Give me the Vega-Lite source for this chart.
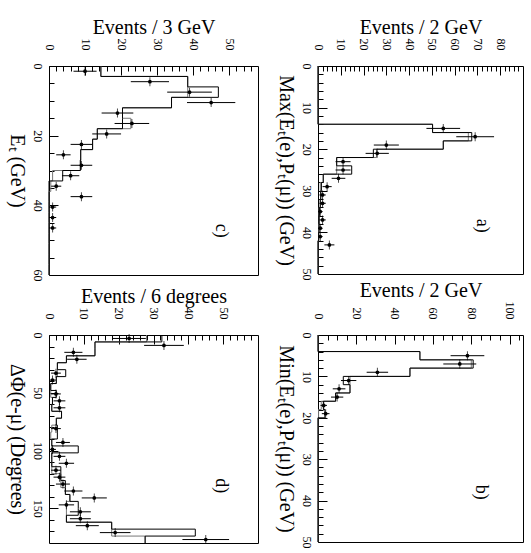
{
  "$schema": "https://vega.github.io/schema/vega-lite/v6.json",
  "background": "white",
  "padding": {"left": 5, "top": 16, "right": 0, "bottom": 0},
  "bounds": "flush",
  "columns": 2,
  "spacing": {"row": 60, "column": 60},
  "config": {
    "font": "Liberation Serif",
    "view": {"stroke": "black", "strokeWidth": 1},
    "axis": {
      "domain": false,
      "grid": false,
      "labelFont": "Liberation Serif",
      "labelFontSize": 12,
      "labelColor": "black",
      "titleFont": "Liberation Serif",
      "titleFontSize": 20,
      "titleFontWeight": "normal",
      "titleColor": "black",
      "tickColor": "black",
      "tickWidth": 1,
      "labelOverlap": false,
      "labelFlush": false
    },
    "axisLeft": {"labelPadding": 16, "titlePadding": 5},
    "axisTop": {"labelPadding": 25, "titlePadding": 1}
  },
  "datasets": {
    "c_hist": [
      {"lo": 0, "hi": 3, "n": 14.4, "m": 14.4},
      {"lo": 3, "hi": 6, "n": 38.5, "m": 38.5},
      {"lo": 6, "hi": 9, "n": 47, "m": 38.5},
      {"lo": 9, "hi": 12, "n": 34, "m": 34},
      {"lo": 12, "hi": 15, "n": 20.4, "m": 20.4},
      {"lo": 15, "hi": 18, "n": 20.4, "m": 22.7},
      {"lo": 18, "hi": 21, "n": 13.4, "m": 13.4},
      {"lo": 21, "hi": 24, "n": 12.1, "m": 12.1},
      {"lo": 24, "hi": 27, "n": 8.8, "m": 8.8},
      {"lo": 27, "hi": 30, "n": 8.7, "m": 8.7},
      {"lo": 30, "hi": 33, "n": 3.8, "m": 1},
      {"lo": 33, "hi": 36, "n": 0, "m": 0.5},
      {"lo": 36, "hi": 39, "n": 0, "m": 0},
      {"lo": 39, "hi": 42, "n": 0, "m": 0},
      {"lo": 42, "hi": 45, "n": 0, "m": 0},
      {"lo": 45, "hi": 48, "n": 0, "m": 0},
      {"lo": 48, "hi": 51, "n": 0, "m": 0},
      {"lo": 51, "hi": 54, "n": 0, "m": 0},
      {"lo": 54, "hi": 57, "n": 0, "m": 0},
      {"lo": 57, "hi": 60, "n": 0, "m": 0}
    ],
    "c_pts": [
      {"v": 1.5, "n": 10, "nlo": 6.8, "nhi": 13.2},
      {"v": 4.5, "n": 28, "nlo": 22.7, "nhi": 33.3},
      {"v": 7.5, "n": 39, "nlo": 32.8, "nhi": 45.2},
      {"v": 10.5, "n": 45, "nlo": 38.3, "nhi": 51.7},
      {"v": 13.5, "n": 19, "nlo": 14.6, "nhi": 23.4},
      {"v": 16.5, "n": 23, "nlo": 18.2, "nhi": 27.8},
      {"v": 19.5, "n": 16, "nlo": 12, "nhi": 20},
      {"v": 22.5, "n": 9, "nlo": 6, "nhi": 12},
      {"v": 25.5, "n": 4, "nlo": 2, "nhi": 6},
      {"v": 28.5, "n": 9, "nlo": 6, "nhi": 12},
      {"v": 31.5, "n": 6, "nlo": 3.6, "nhi": 8.4},
      {"v": 34.5, "n": 2, "nlo": 0.6, "nhi": 3.4},
      {"v": 37.5, "n": 9, "nlo": 6, "nhi": 12},
      {"v": 40.5, "n": 1, "nlo": 0, "nhi": 2},
      {"v": 43.5, "n": 1, "nlo": 0, "nhi": 2},
      {"v": 46.5, "n": 1, "nlo": 0, "nhi": 2}
    ],
    "a_hist": [
      {"lo": 0, "hi": 2, "n": 0, "m": 0},
      {"lo": 2, "hi": 4, "n": 0, "m": 0},
      {"lo": 4, "hi": 6, "n": 0, "m": 0},
      {"lo": 6, "hi": 8, "n": 0, "m": 0},
      {"lo": 8, "hi": 10, "n": 0, "m": 0},
      {"lo": 10, "hi": 12, "n": 0, "m": 0},
      {"lo": 12, "hi": 14, "n": 0, "m": 0},
      {"lo": 14, "hi": 16, "n": 50.3, "m": 50.3},
      {"lo": 16, "hi": 18, "n": 67.5, "m": 66},
      {"lo": 18, "hi": 20, "n": 55, "m": 55},
      {"lo": 20, "hi": 22, "n": 24.3, "m": 25.7},
      {"lo": 22, "hi": 24, "n": 8.2, "m": 8.2},
      {"lo": 24, "hi": 26, "n": 14.8, "m": 8.2},
      {"lo": 26, "hi": 28, "n": 2.3, "m": 2.3},
      {"lo": 28, "hi": 30, "n": 1.5, "m": 1},
      {"lo": 30, "hi": 32, "n": 1.2, "m": 1.2},
      {"lo": 32, "hi": 34, "n": 1, "m": 1},
      {"lo": 34, "hi": 36, "n": 0.7, "m": 0.5},
      {"lo": 36, "hi": 38, "n": 0.5, "m": 0.5},
      {"lo": 38, "hi": 40, "n": 0.5, "m": 0.3},
      {"lo": 40, "hi": 42, "n": 0.3, "m": 0.3},
      {"lo": 42, "hi": 44, "n": 0, "m": 0},
      {"lo": 44, "hi": 46, "n": 0, "m": 0},
      {"lo": 46, "hi": 48, "n": 0, "m": 0},
      {"lo": 48, "hi": 50, "n": 0, "m": 0}
    ],
    "a_pts": [
      {"v": 15, "n": 55, "nlo": 47.6, "nhi": 62.4},
      {"v": 17, "n": 69, "nlo": 60.7, "nhi": 77.3},
      {"v": 19, "n": 30, "nlo": 24.5, "nhi": 35.5},
      {"v": 21, "n": 26, "nlo": 20.9, "nhi": 31.1},
      {"v": 23, "n": 11, "nlo": 7.7, "nhi": 14.3},
      {"v": 25, "n": 11, "nlo": 7.7, "nhi": 14.3},
      {"v": 27, "n": 9, "nlo": 6, "nhi": 12},
      {"v": 29, "n": 4, "nlo": 2, "nhi": 6},
      {"v": 31, "n": 2, "nlo": 0.6, "nhi": 3.4},
      {"v": 33, "n": 2, "nlo": 0.6, "nhi": 3.4},
      {"v": 35, "n": 1, "nlo": 0, "nhi": 2},
      {"v": 37, "n": 2, "nlo": 0.6, "nhi": 3.4},
      {"v": 39, "n": 1, "nlo": 0, "nhi": 2},
      {"v": 41, "n": 1, "nlo": 0, "nhi": 2},
      {"v": 43, "n": 5, "nlo": 2.8, "nhi": 7.2}
    ],
    "d_hist": [
      {"lo": 0, "hi": 6, "n": 32.4, "m": 28},
      {"lo": 6, "hi": 12, "n": 13.2, "m": 13.2},
      {"lo": 12, "hi": 18, "n": 13.2, "m": 13.2},
      {"lo": 18, "hi": 24, "n": 5, "m": 5},
      {"lo": 24, "hi": 30, "n": 2.4, "m": 2.4},
      {"lo": 30, "hi": 36, "n": 4.8, "m": 2.4},
      {"lo": 36, "hi": 42, "n": 2.1, "m": 2.1},
      {"lo": 42, "hi": 48, "n": 0.5, "m": 0.5},
      {"lo": 48, "hi": 54, "n": 2.1, "m": 0.5},
      {"lo": 54, "hi": 60, "n": 1, "m": 1},
      {"lo": 60, "hi": 66, "n": 0.8, "m": 0.8},
      {"lo": 66, "hi": 72, "n": 3.6, "m": 3.6},
      {"lo": 72, "hi": 78, "n": 2.1, "m": 2.1},
      {"lo": 78, "hi": 84, "n": 2.4, "m": 0.8},
      {"lo": 84, "hi": 90, "n": 2.4, "m": 0.5},
      {"lo": 90, "hi": 96, "n": 0.8, "m": 0.8},
      {"lo": 96, "hi": 102, "n": 8.4, "m": 0.8},
      {"lo": 102, "hi": 108, "n": 0.8, "m": 0.8},
      {"lo": 108, "hi": 114, "n": 0.8, "m": 0.8},
      {"lo": 114, "hi": 120, "n": 3.4, "m": 0.8},
      {"lo": 120, "hi": 126, "n": 3.4, "m": 3.4},
      {"lo": 126, "hi": 132, "n": 4.7, "m": 3.4},
      {"lo": 132, "hi": 138, "n": 4.7, "m": 4.7},
      {"lo": 138, "hi": 144, "n": 6, "m": 6},
      {"lo": 144, "hi": 150, "n": 8.4, "m": 5},
      {"lo": 150, "hi": 156, "n": 8.4, "m": 5},
      {"lo": 156, "hi": 162, "n": 5, "m": 5},
      {"lo": 162, "hi": 168, "n": 18, "m": 18},
      {"lo": 168, "hi": 174, "n": 42, "m": 18},
      {"lo": 174, "hi": 180, "n": 27.6, "m": 27.6}
    ],
    "d_pts": [
      {"v": 3, "n": 23, "nlo": 18.2, "nhi": 27.8},
      {"v": 9, "n": 33, "nlo": 27.3, "nhi": 38.7},
      {"v": 15, "n": 7, "nlo": 4.4, "nhi": 9.6},
      {"v": 21, "n": 8, "nlo": 5.2, "nhi": 10.8},
      {"v": 33, "n": 2, "nlo": 0.6, "nhi": 3.4},
      {"v": 39, "n": 1, "nlo": 0, "nhi": 2},
      {"v": 51, "n": 2, "nlo": 0.6, "nhi": 3.4},
      {"v": 57, "n": 3, "nlo": 1.3, "nhi": 4.7},
      {"v": 63, "n": 3, "nlo": 1.3, "nhi": 4.7},
      {"v": 81, "n": 2, "nlo": 0.6, "nhi": 3.4},
      {"v": 93, "n": 4, "nlo": 2, "nhi": 6},
      {"v": 99, "n": 1, "nlo": 0, "nhi": 2},
      {"v": 105, "n": 3, "nlo": 1.3, "nhi": 4.7},
      {"v": 111, "n": 5, "nlo": 2.8, "nhi": 7.2},
      {"v": 117, "n": 2, "nlo": 0.6, "nhi": 3.4},
      {"v": 123, "n": 3, "nlo": 1.3, "nhi": 4.7},
      {"v": 129, "n": 4, "nlo": 2, "nhi": 6},
      {"v": 135, "n": 7, "nlo": 4.4, "nhi": 9.6},
      {"v": 141, "n": 13, "nlo": 9.4, "nhi": 16.6},
      {"v": 147, "n": 5, "nlo": 2.8, "nhi": 7.2},
      {"v": 153, "n": 9, "nlo": 6, "nhi": 12},
      {"v": 159, "n": 9, "nlo": 6, "nhi": 12},
      {"v": 165, "n": 11, "nlo": 7.7, "nhi": 14.3},
      {"v": 171, "n": 19, "nlo": 14.6, "nhi": 23.4},
      {"v": 177, "n": 45, "nlo": 38.3, "nhi": 51.7}
    ],
    "b_hist": [
      {"lo": 0, "hi": 2, "n": 0, "m": 0},
      {"lo": 2, "hi": 4, "n": 0, "m": 0},
      {"lo": 4, "hi": 6, "n": 53.2, "m": 53.2},
      {"lo": 6, "hi": 8, "n": 81, "m": 80},
      {"lo": 8, "hi": 10, "n": 48, "m": 48},
      {"lo": 10, "hi": 12, "n": 13.2, "m": 16.7},
      {"lo": 12, "hi": 14, "n": 16.7, "m": 16.7},
      {"lo": 14, "hi": 16, "n": 9.2, "m": 9.2},
      {"lo": 16, "hi": 18, "n": 2.8, "m": 1.7},
      {"lo": 18, "hi": 20, "n": 3.6, "m": 0.3},
      {"lo": 20, "hi": 22, "n": 0, "m": 0},
      {"lo": 22, "hi": 24, "n": 0, "m": 0},
      {"lo": 24, "hi": 26, "n": 0, "m": 0},
      {"lo": 26, "hi": 28, "n": 0, "m": 0},
      {"lo": 28, "hi": 30, "n": 0, "m": 0},
      {"lo": 30, "hi": 32, "n": 0, "m": 0},
      {"lo": 32, "hi": 34, "n": 0, "m": 0},
      {"lo": 34, "hi": 36, "n": 0, "m": 0},
      {"lo": 36, "hi": 38, "n": 0, "m": 0},
      {"lo": 38, "hi": 40, "n": 0, "m": 0},
      {"lo": 40, "hi": 42, "n": 0, "m": 0},
      {"lo": 42, "hi": 44, "n": 0, "m": 0},
      {"lo": 44, "hi": 46, "n": 0, "m": 0},
      {"lo": 46, "hi": 48, "n": 0, "m": 0},
      {"lo": 48, "hi": 50, "n": 0, "m": 0}
    ],
    "b_pts": [
      {"v": 5, "n": 78, "nlo": 69.2, "nhi": 86.8},
      {"v": 7, "n": 74, "nlo": 65.4, "nhi": 82.6},
      {"v": 9, "n": 31, "nlo": 25.4, "nhi": 36.6},
      {"v": 11, "n": 16, "nlo": 12, "nhi": 20},
      {"v": 13, "n": 11, "nlo": 7.7, "nhi": 14.3},
      {"v": 15, "n": 10, "nlo": 6.8, "nhi": 13.2},
      {"v": 17, "n": 3, "nlo": 1.3, "nhi": 4.7},
      {"v": 19, "n": 4, "nlo": 2, "nhi": 6}
    ],
    "panel_tags": [
      {"panel": "c)", "n": 47.8, "v": 47.3},
      {"panel": "a)", "n": 72, "v": 38.4},
      {"panel": "d)", "n": 49.5, "v": 130.5},
      {"panel": "b)", "n": 85, "v": 38}
    ]
  },
  "concat": [
    {
      "width": 209,
      "height": 209,
      "resolve": {"axis": {"x": "independent", "y": "independent"}},
      "encoding": {
        "y": {"field": "v", "type": "quantitative", "scale": {"domain": [0, 60], "reverse": true, "nice": false, "zero": false}, "axis": null},
        "x": {"field": "n", "type": "quantitative", "scale": {"domain": [0, 58], "nice": false}, "axis": null}
      },
      "layer": [
        {"data": {"name": "c_hist"},
          "transform": [{"fold": ["lo", "hi"], "as": ["edge", "v"]},
            {"window": [{"op": "row_number", "as": "k"}], "sort": [{"field": "v"}, {"field": "edge"}]}],
          "mark": {"type": "line", "color": "#777777", "strokeWidth": 1},
          "encoding": {"x": {"field": "m", "type": "quantitative", "axis": null},
            "order": {"field": "k", "type": "quantitative"}}},
        {"data": {"name": "c_hist"},
          "transform": [{"fold": ["lo", "hi"], "as": ["edge", "v"]},
            {"window": [{"op": "row_number", "as": "k"}], "sort": [{"field": "v"}, {"field": "edge"}]}],
          "mark": {"type": "line", "color": "black", "strokeWidth": 1},
          "encoding": {
            "order": {"field": "k", "type": "quantitative"},
            "y": {"field": "v", "type": "quantitative", "scale": {"domain": [0, 60], "reverse": true, "nice": false, "zero": false},
              "axis": {"orient": "left", "values": [0, 20, 40, 60], "tickSize": -9,
                "labelAngle": 90, "labelAlign": "center", "labelBaseline": "top",
                "title": "Eₜ (GeV)", "titleAngle": 90, "titleBaseline": "top"}},
            "x": {"field": "n", "type": "quantitative", "scale": {"domain": [0, 58], "nice": false},
              "axis": {"orient": "top", "values": [0, 10, 20, 30, 40, 50], "tickSize": -9,
                "labelAngle": 90, "labelAlign": "right", "labelBaseline": "middle",
                "title": "Events / 3 GeV"}}}},
        {"data": {"name": "c_pts"}, "mark": {"type": "rule", "color": "black", "strokeWidth": 1},
          "encoding": {"x": {"field": "nlo", "type": "quantitative", "axis": null}, "x2": {"field": "nhi"}}},
        {"data": {"name": "c_pts"}, "mark": {"type": "tick", "orient": "vertical", "size": 9, "thickness": 1, "color": "black"}},
        {"data": {"name": "c_pts"}, "mark": {"type": "point", "filled": true, "size": 14, "color": "black", "opacity": 1},
          "encoding": {
            "y": {"field": "v", "type": "quantitative", "scale": {"domain": [0, 60], "reverse": true, "nice": false, "zero": false},
              "axis": {"orient": "left", "values": [5, 10, 15, 25, 30, 35, 45, 50, 55], "tickSize": -5, "labels": false, "title": null}},
            "x": {"field": "n", "type": "quantitative", "scale": {"domain": [0, 58], "nice": false},
              "axis": {"orient": "top", "values": [2, 4, 6, 8, 12, 14, 16, 18, 22, 24, 26, 28, 32, 34, 36, 38, 42, 44, 46, 48, 52, 54, 56], "tickSize": -5, "labels": false, "title": null}}}},
        {"data": {"name": "panel_tags"},
          "transform": [{"filter": "datum.panel === 'c)'"}],
          "mark": {"type": "text", "angle": 90, "fontSize": 18, "font": "Liberation Serif", "align": "center", "baseline": "middle", "color": "black"},
          "encoding": {"text": {"field": "panel", "type": "nominal"}}}
      ]
    },
    {
      "width": 205,
      "height": 208,
      "resolve": {"axis": {"x": "independent", "y": "independent"}},
      "encoding": {
        "y": {"field": "v", "type": "quantitative", "scale": {"domain": [0, 50], "reverse": true, "nice": false, "zero": false}, "axis": null},
        "x": {"field": "n", "type": "quantitative", "scale": {"domain": [0, 90], "nice": false}, "axis": null}
      },
      "layer": [
        {"data": {"name": "a_hist"},
          "transform": [{"fold": ["lo", "hi"], "as": ["edge", "v"]},
            {"window": [{"op": "row_number", "as": "k"}], "sort": [{"field": "v"}, {"field": "edge"}]}],
          "mark": {"type": "line", "color": "#777777", "strokeWidth": 1},
          "encoding": {"x": {"field": "m", "type": "quantitative", "axis": null},
            "order": {"field": "k", "type": "quantitative"}}},
        {"data": {"name": "a_hist"},
          "transform": [{"fold": ["lo", "hi"], "as": ["edge", "v"]},
            {"window": [{"op": "row_number", "as": "k"}], "sort": [{"field": "v"}, {"field": "edge"}]}],
          "mark": {"type": "line", "color": "black", "strokeWidth": 1},
          "encoding": {
            "order": {"field": "k", "type": "quantitative"},
            "y": {"field": "v", "type": "quantitative", "scale": {"domain": [0, 50], "reverse": true, "nice": false, "zero": false},
              "axis": {"orient": "left", "values": [0, 10, 20, 30, 40, 50], "tickSize": -9,
                "labelAngle": 90, "labelAlign": "center", "labelBaseline": "top",
                "title": "Max(Eₜ(e),Pₜ(μ)) (GeV)", "titleAngle": 90, "titleBaseline": "top"}},
            "x": {"field": "n", "type": "quantitative", "scale": {"domain": [0, 90], "nice": false},
              "axis": {"orient": "top", "values": [0, 10, 20, 30, 40, 50, 60, 70, 80], "tickSize": -9,
                "labelAngle": 90, "labelAlign": "right", "labelBaseline": "middle",
                "title": "Events / 2 GeV"}}}},
        {"data": {"name": "a_pts"}, "mark": {"type": "rule", "color": "black", "strokeWidth": 1},
          "encoding": {"x": {"field": "nlo", "type": "quantitative", "axis": null}, "x2": {"field": "nhi"}}},
        {"data": {"name": "a_pts"}, "mark": {"type": "tick", "orient": "vertical", "size": 9, "thickness": 1, "color": "black"}},
        {"data": {"name": "a_pts"}, "mark": {"type": "point", "filled": true, "size": 14, "color": "black", "opacity": 1},
          "encoding": {
            "y": {"field": "v", "type": "quantitative", "scale": {"domain": [0, 50], "reverse": true, "nice": false, "zero": false},
              "axis": {"orient": "left", "values": [2, 4, 6, 8, 12, 14, 16, 18, 22, 24, 26, 28, 32, 34, 36, 38, 42, 44, 46, 48], "tickSize": -5, "labels": false, "title": null}},
            "x": {"field": "n", "type": "quantitative", "scale": {"domain": [0, 90], "nice": false},
              "axis": {"orient": "top", "values": [2, 4, 6, 8, 12, 14, 16, 18, 22, 24, 26, 28, 32, 34, 36, 38, 42, 44, 46, 48, 52, 54, 56, 58, 62, 64, 66, 68, 72, 74, 76, 78, 82, 84, 86, 88], "tickSize": -5, "labels": false, "title": null}}}},
        {"data": {"name": "panel_tags"},
          "transform": [{"filter": "datum.panel === 'a)'"}],
          "mark": {"type": "text", "angle": 90, "fontSize": 18, "font": "Liberation Serif", "align": "center", "baseline": "middle", "color": "black"},
          "encoding": {"text": {"field": "panel", "type": "nominal"}}}
      ]
    },
    {
      "width": 209,
      "height": 208,
      "resolve": {"axis": {"x": "independent", "y": "independent"}},
      "encoding": {
        "y": {"field": "v", "type": "quantitative", "scale": {"domain": [0, 180], "reverse": true, "nice": false, "zero": false}, "axis": null},
        "x": {"field": "n", "type": "quantitative", "scale": {"domain": [0, 60], "nice": false}, "axis": null}
      },
      "layer": [
        {"data": {"name": "d_hist"},
          "transform": [{"fold": ["lo", "hi"], "as": ["edge", "v"]},
            {"window": [{"op": "row_number", "as": "k"}], "sort": [{"field": "v"}, {"field": "edge"}]}],
          "mark": {"type": "line", "color": "#777777", "strokeWidth": 1},
          "encoding": {"x": {"field": "m", "type": "quantitative", "axis": null},
            "order": {"field": "k", "type": "quantitative"}}},
        {"data": {"name": "d_hist"},
          "transform": [{"fold": ["lo", "hi"], "as": ["edge", "v"]},
            {"window": [{"op": "row_number", "as": "k"}], "sort": [{"field": "v"}, {"field": "edge"}]}],
          "mark": {"type": "line", "color": "black", "strokeWidth": 1},
          "encoding": {
            "order": {"field": "k", "type": "quantitative"},
            "y": {"field": "v", "type": "quantitative", "scale": {"domain": [0, 180], "reverse": true, "nice": false, "zero": false},
              "axis": {"orient": "left", "values": [0, 50, 100, 150], "tickSize": -9,
                "labelAngle": 90, "labelAlign": "center", "labelBaseline": "top",
                "title": "ΔΦ(e-μ) (Degrees)", "titleAngle": 90, "titleBaseline": "top"}},
            "x": {"field": "n", "type": "quantitative", "scale": {"domain": [0, 60], "nice": false},
              "axis": {"orient": "top", "values": [0, 10, 20, 30, 40, 50], "tickSize": -9,
                "labelAngle": 90, "labelAlign": "right", "labelBaseline": "middle",
                "title": "Events / 6 degrees"}}}},
        {"data": {"name": "d_pts"}, "mark": {"type": "rule", "color": "black", "strokeWidth": 1},
          "encoding": {"x": {"field": "nlo", "type": "quantitative", "axis": null}, "x2": {"field": "nhi"}}},
        {"data": {"name": "d_pts"}, "mark": {"type": "tick", "orient": "vertical", "size": 9, "thickness": 1, "color": "black"}},
        {"data": {"name": "d_pts"}, "mark": {"type": "point", "filled": true, "size": 14, "color": "black", "opacity": 1},
          "encoding": {
            "y": {"field": "v", "type": "quantitative", "scale": {"domain": [0, 180], "reverse": true, "nice": false, "zero": false},
              "axis": {"orient": "left", "values": [10, 20, 30, 40, 60, 70, 80, 90, 110, 120, 130, 140, 160, 170], "tickSize": -5, "labels": false, "title": null}},
            "x": {"field": "n", "type": "quantitative", "scale": {"domain": [0, 60], "nice": false},
              "axis": {"orient": "top", "values": [2, 4, 6, 8, 12, 14, 16, 18, 22, 24, 26, 28, 32, 34, 36, 38, 42, 44, 46, 48, 52, 54, 56, 58], "tickSize": -5, "labels": false, "title": null}}}},
        {"data": {"name": "panel_tags"},
          "transform": [{"filter": "datum.panel === 'd)'"}],
          "mark": {"type": "text", "angle": 90, "fontSize": 18, "font": "Liberation Serif", "align": "center", "baseline": "middle", "color": "black"},
          "encoding": {"text": {"field": "panel", "type": "nominal"}}}
      ]
    },
    {
      "width": 205,
      "height": 207,
      "resolve": {"axis": {"x": "independent", "y": "independent"}},
      "encoding": {
        "y": {"field": "v", "type": "quantitative", "scale": {"domain": [0, 50], "reverse": true, "nice": false, "zero": false}, "axis": null},
        "x": {"field": "n", "type": "quantitative", "scale": {"domain": [0, 107], "nice": false}, "axis": null}
      },
      "layer": [
        {"data": {"name": "b_hist"},
          "transform": [{"fold": ["lo", "hi"], "as": ["edge", "v"]},
            {"window": [{"op": "row_number", "as": "k"}], "sort": [{"field": "v"}, {"field": "edge"}]}],
          "mark": {"type": "line", "color": "#777777", "strokeWidth": 1},
          "encoding": {"x": {"field": "m", "type": "quantitative", "axis": null},
            "order": {"field": "k", "type": "quantitative"}}},
        {"data": {"name": "b_hist"},
          "transform": [{"fold": ["lo", "hi"], "as": ["edge", "v"]},
            {"window": [{"op": "row_number", "as": "k"}], "sort": [{"field": "v"}, {"field": "edge"}]}],
          "mark": {"type": "line", "color": "black", "strokeWidth": 1},
          "encoding": {
            "order": {"field": "k", "type": "quantitative"},
            "y": {"field": "v", "type": "quantitative", "scale": {"domain": [0, 50], "reverse": true, "nice": false, "zero": false},
              "axis": {"orient": "left", "values": [0, 10, 20, 30, 40, 50], "tickSize": -9,
                "labelAngle": 90, "labelAlign": "center", "labelBaseline": "top",
                "title": "Min(Eₜ(e),Pₜ(μ)) (GeV)", "titleAngle": 90, "titleBaseline": "top"}},
            "x": {"field": "n", "type": "quantitative", "scale": {"domain": [0, 107], "nice": false},
              "axis": {"orient": "top", "values": [0, 20, 40, 60, 80, 100], "tickSize": -9,
                "labelAngle": 90, "labelAlign": "right", "labelBaseline": "middle",
                "title": "Events / 2 GeV"}}}},
        {"data": {"name": "b_pts"}, "mark": {"type": "rule", "color": "black", "strokeWidth": 1},
          "encoding": {"x": {"field": "nlo", "type": "quantitative", "axis": null}, "x2": {"field": "nhi"}}},
        {"data": {"name": "b_pts"}, "mark": {"type": "tick", "orient": "vertical", "size": 9, "thickness": 1, "color": "black"}},
        {"data": {"name": "b_pts"}, "mark": {"type": "point", "filled": true, "size": 14, "color": "black", "opacity": 1},
          "encoding": {
            "y": {"field": "v", "type": "quantitative", "scale": {"domain": [0, 50], "reverse": true, "nice": false, "zero": false},
              "axis": {"orient": "left", "values": [2, 4, 6, 8, 12, 14, 16, 18, 22, 24, 26, 28, 32, 34, 36, 38, 42, 44, 46, 48], "tickSize": -5, "labels": false, "title": null}},
            "x": {"field": "n", "type": "quantitative", "scale": {"domain": [0, 107], "nice": false},
              "axis": {"orient": "top", "values": [5, 10, 15, 25, 30, 35, 45, 50, 55, 65, 70, 75, 85, 90, 95, 105], "tickSize": -5, "labels": false, "title": null}}}},
        {"data": {"name": "panel_tags"},
          "transform": [{"filter": "datum.panel === 'b)'"}],
          "mark": {"type": "text", "angle": 90, "fontSize": 18, "font": "Liberation Serif", "align": "center", "baseline": "middle", "color": "black"},
          "encoding": {"text": {"field": "panel", "type": "nominal"}}}
      ]
    }
  ]
}
